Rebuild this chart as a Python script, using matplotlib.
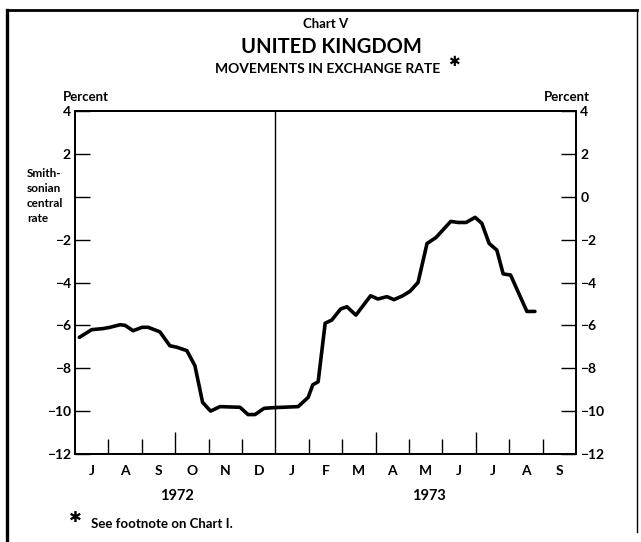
import matplotlib
matplotlib.use("Agg")
import matplotlib.pyplot as plt
from matplotlib.lines import Line2D

# ---- data ----
month_labels = ["J", "A", "S", "O", "N", "D", "J", "F", "M", "A", "M", "J", "J", "A", "S"]
year_labels = ["1972", "1973"]
year_centers = [3.05, 10.6]          # months since 1 Jul 1972
y_ticks = [4, 2, 0, -2, -4, -6, -8, -10, -12]

# months since 1 July 1972 (weekly readings)
t = [0.13, 0.50, 0.84, 1.05, 1.35, 1.50, 1.74, 2.01, 2.19, 2.54, 2.84, 3.05,
     3.35, 3.59, 3.82, 4.06, 4.34, 4.94, 5.18, 5.39, 5.66, 5.93, 6.68, 6.98,
     7.12, 7.28, 7.49, 7.69, 7.95, 8.14, 8.41, 8.85, 9.07, 9.34, 9.55, 9.81,
     10.03, 10.27, 10.54, 10.81, 11.25, 11.47, 11.71, 11.98, 12.18, 12.40,
     12.63, 12.82, 13.04, 13.53, 13.77]
# percent deviation from Smithsonian central rate
rate = [-6.56, -6.20, -6.15, -6.09, -5.97, -6.00, -6.25, -6.09, -6.09, -6.30,
        -6.95, -7.02, -7.18, -7.88, -9.59, -10.00, -9.79, -9.82, -10.16, -10.16,
        -9.87, -9.84, -9.79, -9.36, -8.77, -8.63, -5.90, -5.75, -5.24, -5.13,
        -5.52, -4.62, -4.77, -4.66, -4.80, -4.62, -4.41, -4.00, -2.18, -1.90,
        -1.15, -1.20, -1.20, -0.96, -1.24, -2.18, -2.49, -3.60, -3.65, -5.35,
        -5.35]

plt.rcParams["font.family"] = ["Lato", "DejaVu Sans"]
plt.rcParams["font.weight"] = "bold"

W, H = 641, 542
fig = plt.figure(figsize=(W / 100, H / 100), dpi=100)
fig.patch.set_facecolor("white")

L, R, T, B = 75, 576, 111, 454
ax = fig.add_axes([L / W, 1 - B / H, (R - L) / W, (B - T) / H])
ax.set_xlim(0, 15)
ax.set_ylim(-12, 4)

for s in ax.spines.values():
    s.set_linewidth(1.3)

ax.plot(t, rate, color="black", lw=2.6, solid_joinstyle="round", solid_capstyle="round")
ax.axvline(6, color="black", lw=1.0)


def fmt(v):
    return str(v).replace("-", "\u2212")


TF = 10  # tick font size

# left y axis (no label at 0; replaced by the Smithsonian note)
ax.set_yticks(y_ticks)
ax.set_yticklabels(["" if v == 0 else fmt(v) for v in y_ticks], fontsize=TF, fontweight="bold")
ax.tick_params(axis="y", direction="in", length=11, width=1.0, pad=3)

# right y axis
ax2 = ax.twinx()
ax2.set_ylim(-12, 4)
ax2.set_yticks(y_ticks)
ax2.set_yticklabels([fmt(v) for v in y_ticks], fontsize=TF, fontweight="bold")
ax2.tick_params(axis="y", direction="in", length=11, width=1.0, pad=3)
for s in ax2.spines.values():
    s.set_linewidth(1.3)

# bottom: short month ticks, labels centred in each month
short = [m for m in range(1, 15) if m not in (3, 6, 9, 12)]
ax.set_xticks(short)
ax.set_xticklabels([])
ax.tick_params(axis="x", which="major", direction="in", length=11, width=1.0)
ax.set_xticks([m + 0.5 for m in range(15)], minor=True)
ax.set_xticklabels(month_labels, minor=True, fontsize=TF, fontweight="bold")
ax.tick_params(axis="x", which="minor", length=0, pad=8)

# tall quarter ticks
sec = ax.secondary_xaxis("bottom")
sec.set_xticks([3, 9, 12])
sec.set_xticklabels([])
sec.tick_params(direction="in", length=16, width=1.0)
sec.spines["bottom"].set_visible(False)

# year labels
for yc, yl in zip(year_centers, year_labels):
    ax.text(yc, -0.122, yl, transform=ax.get_xaxis_transform(), ha="center",
            va="center", fontsize=10.5, fontweight="bold")

# titles
cx = 331 / W
fig.text(326 / W, 1 - 24 / H, "Chart V", ha="center", va="center", fontsize=9.5, fontweight="bold")
fig.text(cx, 1 - 47 / H, "UNITED KINGDOM", ha="center", va="center", fontsize=14.5, fontweight="bold")
fig.text(328 / W, 1 - 69 / H, "MOVEMENTS IN EXCHANGE RATE", ha="center", va="center",
         fontsize=10, fontweight="bold")
fig.text(454 / W, 1 - 62 / H, "\u2731", ha="center", va="center", fontsize=10,
         family="DejaVu Sans")

fig.text(63 / W, 1 - 97 / H, "Percent", ha="left", va="center", fontsize=9.5, fontweight="bold")
fig.text(590 / W, 1 - 97 / H, "Percent", ha="right", va="center", fontsize=9.5, fontweight="bold")

fig.text(27 / W, 1 - 168 / H, "Smith-\nsonian\ncentral\nrate", ha="left", va="top",
         fontsize=8.5, fontweight="bold", linespacing=1.45)

fig.text(75 / W, 1 - 517 / H, "\u2731", ha="center", va="center", fontsize=11,
         family="DejaVu Sans")
fig.text(91 / W, 1 - 524 / H, "See footnote on Chart I.", ha="left", va="center",
         fontsize=9.5, fontweight="bold")

# page frame
fig.add_artist(Line2D([7 / W, 7 / W], [0, 1 - 10 / H], transform=fig.transFigure,
                      color="black", lw=2.4))
fig.add_artist(Line2D([7 / W, 637 / W], [1 - 10 / H, 1 - 10 / H], transform=fig.transFigure,
                      color="black", lw=2.0))
fig.add_artist(Line2D([637 / W, 637 / W], [1 - 10 / H, 1 - 532 / H], transform=fig.transFigure,
                      color="black", lw=1.0))

fig.savefig("out.png", dpi=100)
